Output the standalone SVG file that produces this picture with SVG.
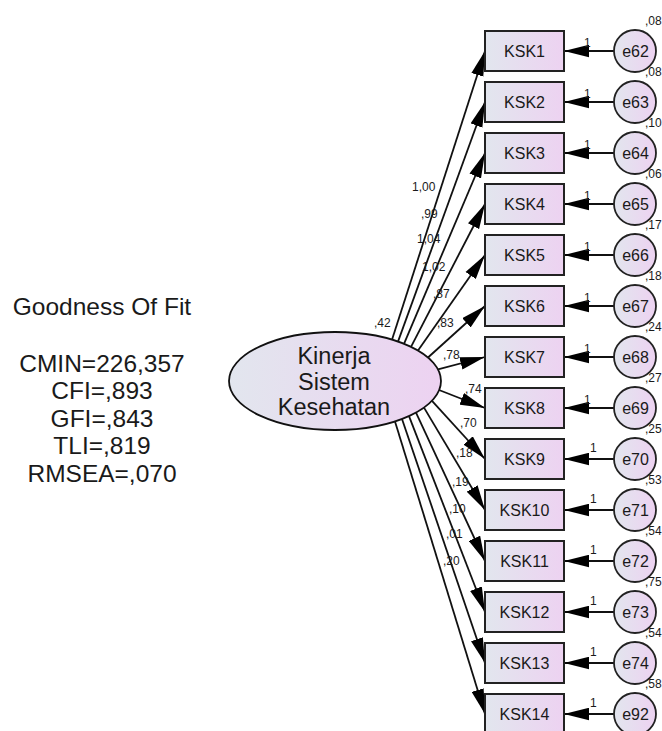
<svg xmlns="http://www.w3.org/2000/svg" width="662" height="731" viewBox="0 0 662 731">
<defs>
<linearGradient id="g" x1="0" y1="0" x2="1" y2="0">
<stop offset="0" stop-color="#E2E6EE"/>
<stop offset="1" stop-color="#EDD2F1"/>
</linearGradient>
<marker id="ah" markerUnits="userSpaceOnUse" markerWidth="25" markerHeight="13" viewBox="0 0 24 12" refX="24" refY="6" orient="auto">
<path d="M0,0 L24,6 L0,12 z" fill="#000"/>
</marker>
<style>
text{font-family:"Liberation Sans",Arial,sans-serif;fill:#1a1a1a}
.box{fill:url(#g);stroke:#222;stroke-width:2}
.err{fill:url(#g);stroke:#222;stroke-width:1.8}
.lat{fill:url(#g);stroke:#111;stroke-width:1.8}
.bl{font-size:16px;text-anchor:middle}
.el{font-size:16px;text-anchor:middle}
.sm{font-size:12px}
.fit{font-size:24.5px;text-anchor:middle}
.lat-t{font-size:23.5px;text-anchor:middle}
#connectors line{stroke:#111;stroke-width:1.8;marker-end:url(#ah)}
</style>
</defs>
<g id="fit">
<text class="fit" x="102" y="315">Goodness Of Fit</text>
<text class="fit" x="102" y="371.5">CMIN=226,357</text>
<text class="fit" x="102" y="399">CFI=,893</text>
<text class="fit" x="102" y="426.5">GFI=,843</text>
<text class="fit" x="102" y="454">TLI=,819</text>
<text class="fit" x="102" y="482">RMSEA=,070</text>
</g>
<g id="connectors">
<line x1="392" y1="339.7" x2="485" y2="51"/>
<line x1="398" y1="341.6" x2="485" y2="102"/>
<line x1="404" y1="343.8" x2="485" y2="153"/>
<line x1="411" y1="346.8" x2="485" y2="204"/>
<line x1="418" y1="350.5" x2="485" y2="255"/>
<line x1="428" y1="357.5" x2="485" y2="306"/>
<line x1="438" y1="369.4" x2="485" y2="357"/>
<line x1="439" y1="390" x2="485" y2="408"/>
<line x1="432" y1="400.8" x2="485" y2="459"/>
<line x1="424" y1="407.6" x2="485" y2="510"/>
<line x1="416" y1="412.6" x2="485" y2="561"/>
<line x1="409" y1="416.1" x2="485" y2="612"/>
<line x1="402" y1="419" x2="485" y2="663"/>
<line x1="395" y1="421.4" x2="485" y2="714"/>
<line x1="614" y1="51" x2="564" y2="51"/>
<line x1="614" y1="102" x2="564" y2="102"/>
<line x1="614" y1="153" x2="564" y2="153"/>
<line x1="614" y1="204" x2="564" y2="204"/>
<line x1="614" y1="255" x2="564" y2="255"/>
<line x1="614" y1="306" x2="564" y2="306"/>
<line x1="614" y1="357" x2="564" y2="357"/>
<line x1="614" y1="408" x2="564" y2="408"/>
<line x1="614" y1="459" x2="564" y2="459"/>
<line x1="614" y1="510" x2="564" y2="510"/>
<line x1="614" y1="561" x2="564" y2="561"/>
<line x1="614" y1="612" x2="564" y2="612"/>
<line x1="614" y1="663" x2="564" y2="663"/>
<line x1="614" y1="714" x2="564" y2="714"/>
</g>
<g id="labels">
<text class="sm" x="374" y="327">,42</text>
<text class="sm" x="412" y="191">1,00</text>
<text class="sm" x="421" y="218">,99</text>
<text class="sm" x="417" y="243">1,04</text>
<text class="sm" x="422" y="271">1,02</text>
<text class="sm" x="433" y="298">,87</text>
<text class="sm" x="437" y="327">,83</text>
<text class="sm" x="443" y="359">,78</text>
<text class="sm" x="465" y="393">,74</text>
<text class="sm" x="460" y="427">,70</text>
<text class="sm" x="456" y="457">,18</text>
<text class="sm" x="452" y="486">,19</text>
<text class="sm" x="449" y="513">,10</text>
<text class="sm" x="446" y="538">,01</text>
<text class="sm" x="443" y="565">,20</text>
<text class="sm" x="584" y="47">1</text>
<text class="sm" x="584" y="98">1</text>
<text class="sm" x="584" y="149">1</text>
<text class="sm" x="584" y="200">1</text>
<text class="sm" x="584" y="251">1</text>
<text class="sm" x="584" y="302">1</text>
<text class="sm" x="584" y="353">1</text>
<text class="sm" x="584" y="404">1</text>
<text class="sm" x="590" y="451.5">1</text>
<text class="sm" x="590" y="502.5">1</text>
<text class="sm" x="590" y="553.5">1</text>
<text class="sm" x="590" y="604.5">1</text>
<text class="sm" x="590" y="655.5">1</text>
<text class="sm" x="590" y="706.5">1</text>
</g>
<g id="latent">
<ellipse class="lat" cx="335" cy="381" rx="106" ry="49"/>
<text class="lat-t" x="334" y="364">Kinerja</text>
<text class="lat-t" x="334" y="390">Sistem</text>
<text class="lat-t" x="334" y="415">Kesehatan</text>
</g>
<g id="KSK1"><rect class="box" x="485" y="31" width="79" height="40"/><text class="bl" x="524.5" y="57">KSK1</text></g>
<g id="KSK2"><rect class="box" x="485" y="82" width="79" height="40"/><text class="bl" x="524.5" y="108">KSK2</text></g>
<g id="KSK3"><rect class="box" x="485" y="133" width="79" height="40"/><text class="bl" x="524.5" y="159">KSK3</text></g>
<g id="KSK4"><rect class="box" x="485" y="184" width="79" height="40"/><text class="bl" x="524.5" y="210">KSK4</text></g>
<g id="KSK5"><rect class="box" x="485" y="235" width="79" height="40"/><text class="bl" x="524.5" y="261">KSK5</text></g>
<g id="KSK6"><rect class="box" x="485" y="286" width="79" height="40"/><text class="bl" x="524.5" y="312">KSK6</text></g>
<g id="KSK7"><rect class="box" x="485" y="337" width="79" height="40"/><text class="bl" x="524.5" y="363">KSK7</text></g>
<g id="KSK8"><rect class="box" x="485" y="388" width="79" height="40"/><text class="bl" x="524.5" y="414">KSK8</text></g>
<g id="KSK9"><rect class="box" x="485" y="439" width="79" height="40"/><text class="bl" x="524.5" y="465">KSK9</text></g>
<g id="KSK10"><rect class="box" x="485" y="490" width="79" height="40"/><text class="bl" x="524.5" y="516">KSK10</text></g>
<g id="KSK11"><rect class="box" x="485" y="541" width="79" height="40"/><text class="bl" x="524.5" y="567">KSK11</text></g>
<g id="KSK12"><rect class="box" x="485" y="592" width="79" height="40"/><text class="bl" x="524.5" y="618">KSK12</text></g>
<g id="KSK13"><rect class="box" x="485" y="643" width="79" height="40"/><text class="bl" x="524.5" y="669">KSK13</text></g>
<g id="KSK14"><rect class="box" x="485" y="694" width="79" height="40"/><text class="bl" x="524.5" y="720">KSK14</text></g>
<g id="e62"><circle class="err" cx="635" cy="51" r="21"/><text class="el" x="635.5" y="57">e62</text><text class="sm" x="645" y="25">,08</text></g>
<g id="e63"><circle class="err" cx="635" cy="102" r="21"/><text class="el" x="635.5" y="108">e63</text><text class="sm" x="645" y="76">,08</text></g>
<g id="e64"><circle class="err" cx="635" cy="153" r="21"/><text class="el" x="635.5" y="159">e64</text><text class="sm" x="645" y="127">,10</text></g>
<g id="e65"><circle class="err" cx="635" cy="204" r="21"/><text class="el" x="635.5" y="210">e65</text><text class="sm" x="645" y="178">,06</text></g>
<g id="e66"><circle class="err" cx="635" cy="255" r="21"/><text class="el" x="635.5" y="261">e66</text><text class="sm" x="645" y="229">,17</text></g>
<g id="e67"><circle class="err" cx="635" cy="306" r="21"/><text class="el" x="635.5" y="312">e67</text><text class="sm" x="645" y="280">,18</text></g>
<g id="e68"><circle class="err" cx="635" cy="357" r="21"/><text class="el" x="635.5" y="363">e68</text><text class="sm" x="645" y="331">,24</text></g>
<g id="e69"><circle class="err" cx="635" cy="408" r="21"/><text class="el" x="635.5" y="414">e69</text><text class="sm" x="645" y="382">,27</text></g>
<g id="e70"><circle class="err" cx="635" cy="459" r="21"/><text class="el" x="635.5" y="465">e70</text><text class="sm" x="645" y="433">,25</text></g>
<g id="e71"><circle class="err" cx="635" cy="510" r="21"/><text class="el" x="635.5" y="516">e71</text><text class="sm" x="645" y="484">,53</text></g>
<g id="e72"><circle class="err" cx="635" cy="561" r="21"/><text class="el" x="635.5" y="567">e72</text><text class="sm" x="645" y="535">,54</text></g>
<g id="e73"><circle class="err" cx="635" cy="612" r="21"/><text class="el" x="635.5" y="618">e73</text><text class="sm" x="645" y="586">,75</text></g>
<g id="e74"><circle class="err" cx="635" cy="663" r="21"/><text class="el" x="635.5" y="669">e74</text><text class="sm" x="645" y="637">,54</text></g>
<g id="e92"><circle class="err" cx="635" cy="714" r="21"/><text class="el" x="635.5" y="720">e92</text><text class="sm" x="645" y="688">,58</text></g>
</svg>
